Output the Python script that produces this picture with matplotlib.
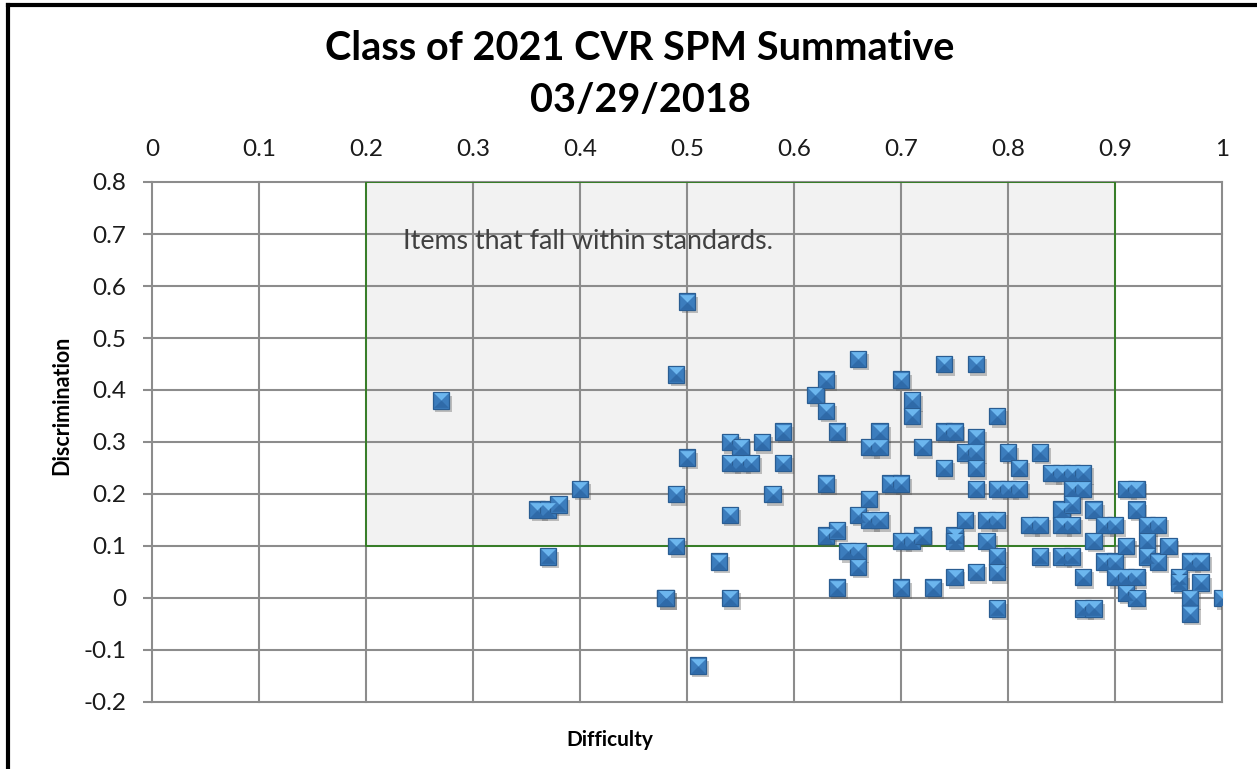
import matplotlib
matplotlib.use("Agg")
import matplotlib.pyplot as plt
from matplotlib.path import Path
from matplotlib.patches import Rectangle
from matplotlib.lines import Line2D
import matplotlib.patheffects as pe

plt.rcParams['font.family'] = ['Lato', 'DejaVu Sans']

difficulty = [0.27, 0.36, 0.37, 0.38, 0.40, 0.37, 0.48, 0.48, 0.49, 0.49, 0.49,
              0.50, 0.50, 0.51, 0.53, 0.54, 0.54, 0.54, 0.54, 0.55, 0.55, 0.56,
              0.57, 0.58, 0.59, 0.59, 0.62, 0.63, 0.63, 0.63, 0.63, 0.64, 0.64,
              0.64, 0.65, 0.66, 0.66, 0.66, 0.66, 0.67, 0.67, 0.67, 0.68, 0.68,
              0.68, 0.69, 0.70, 0.70, 0.70, 0.70, 0.71, 0.71, 0.71, 0.72, 0.72,
              0.73, 0.74, 0.74, 0.74, 0.75, 0.75, 0.75, 0.75, 0.76, 0.76, 0.77,
              0.77, 0.77, 0.77, 0.77, 0.77, 0.78, 0.78, 0.79, 0.79, 0.79, 0.79,
              0.79, 0.79, 0.80, 0.80, 0.81, 0.81, 0.82, 0.83, 0.83, 0.83, 0.84,
              0.85, 0.85, 0.85, 0.85, 0.86, 0.86, 0.86, 0.86, 0.86, 0.87, 0.87,
              0.87, 0.87, 0.88, 0.88, 0.88, 0.89, 0.89, 0.90, 0.90, 0.90, 0.91,
              0.91, 0.91, 0.91, 0.92, 0.92, 0.92, 0.92, 0.93, 0.93, 0.93, 0.94,
              0.94, 0.95, 0.96, 0.96, 0.97, 0.97, 0.97, 0.98, 0.98, 1.00]
discrimination = [0.38, 0.17, 0.17, 0.18, 0.21, 0.08, 0.00, 0.00, 0.43, 0.20, 0.10,
                  0.57, 0.27, -0.13, 0.07, 0.30, 0.26, 0.16, 0.00, 0.29, 0.26, 0.26,
                  0.30, 0.20, 0.32, 0.26, 0.39, 0.42, 0.36, 0.22, 0.12, 0.32, 0.13,
                  0.02, 0.09, 0.46, 0.16, 0.09, 0.06, 0.29, 0.19, 0.15, 0.32, 0.29,
                  0.15, 0.22, 0.42, 0.22, 0.11, 0.02, 0.38, 0.35, 0.11, 0.29, 0.12,
                  0.02, 0.45, 0.32, 0.25, 0.32, 0.12, 0.11, 0.04, 0.28, 0.15, 0.45,
                  0.31, 0.28, 0.25, 0.21, 0.05, 0.15, 0.11, 0.35, 0.21, 0.15, 0.08,
                  0.05, -0.02, 0.28, 0.21, 0.25, 0.21, 0.14, 0.28, 0.14, 0.08, 0.24,
                  0.24, 0.17, 0.14, 0.08, 0.24, 0.21, 0.18, 0.14, 0.08, 0.24, 0.21,
                  0.04, -0.02, 0.17, 0.11, -0.02, 0.14, 0.07, 0.14, 0.07, 0.04, 0.21,
                  0.10, 0.04, 0.01, 0.21, 0.17, 0.04, 0.00, 0.14, 0.11, 0.08, 0.14,
                  0.07, 0.10, 0.04, 0.03, 0.07, 0.00, -0.03, 0.07, 0.03, 0.00]

x_ticks = [0, 0.1, 0.2, 0.3, 0.4, 0.5, 0.6, 0.7, 0.8, 0.9, 1]
x_tick_labels = ['0', '0.1', '0.2', '0.3', '0.4', '0.5', '0.6', '0.7', '0.8', '0.9', '1']
y_ticks = [-0.2, -0.1, 0, 0.1, 0.2, 0.3, 0.4, 0.5, 0.6, 0.7, 0.8]
y_tick_labels = ['-0.2', '-0.1', '0', '0.1', '0.2', '0.3', '0.4', '0.5', '0.6', '0.7', '0.8']
standard_x = (0.2, 0.9)
standard_y = (0.1, 0.8)

fig = plt.figure(figsize=(12.57, 7.69), dpi=100)
ax = fig.add_axes([152/1257, 67/769, 1070/1257, 520/769])
ax.set_xlim(0, 1)
ax.set_ylim(-0.2, 0.8)

grid_col = '#8c8c8c'
ax.add_patch(Rectangle((standard_x[0], standard_y[0]), standard_x[1]-standard_x[0],
                       standard_y[1]-standard_y[0], facecolor='#f2f2f2',
                       edgecolor='none', zorder=0.5))
ax.add_patch(Rectangle((standard_x[0], standard_y[0]), standard_x[1]-standard_x[0],
                       standard_y[1]-standard_y[0], facecolor='none',
                       edgecolor='#2f7d1f', linewidth=1.3, zorder=1.6))

for v in x_ticks:
    ax.axvline(v, color=grid_col, linewidth=1.5, zorder=1, clip_on=False)
for v in y_ticks:
    ax.axhline(v, color=grid_col, linewidth=1.5, zorder=1, clip_on=False)
for s in ax.spines.values():
    s.set_visible(False)

ax.xaxis.tick_top()
ax.set_xticks(x_ticks)
ax.set_xticklabels(x_tick_labels)
ax.set_yticks(y_ticks)
ax.set_yticklabels(y_tick_labels)
ax.tick_params(axis='x', length=0, pad=16, labelsize=17.5, labelcolor='#1a1a1a')
ax.tick_params(axis='y', length=6.5, width=1.5, color=grid_col, pad=12,
               labelsize=17.5, labelcolor='#1a1a1a')

# pyramid-style square markers
shadow = [pe.SimplePatchShadow(offset=(2, -2.5), alpha=0.35, shadow_rgbFace='#555555'),
          pe.Normal()]
ax.plot(difficulty, discrimination, linestyle='none', marker='s', markersize=11.8,
        markerfacecolor='#3c7dbd', markeredgecolor='#2a5d92', markeredgewidth=0.9,
        zorder=3, path_effects=shadow)
bottom_tri = Path([(-1, -1), (1, -1), (0, 0), (-1, -1)])
ax.plot(difficulty, discrimination, linestyle='none', marker=bottom_tri, markersize=10.6,
        markerfacecolor='#2f6aa8', markeredgewidth=0, zorder=3.1)
top_tri = Path([(-1, 1), (1, 1), (0, 0), (-1, 1)])
ax.plot(difficulty, discrimination, linestyle='none', marker=top_tri, markersize=10.6,
        markerfacecolor='#6cb6ee', markeredgewidth=0, zorder=3.2)

ax.text(0.235, 0.685, 'Items that fall within standards.', fontsize=19.3,
        color='#404040', va='center', ha='left', zorder=4)

fig.text(610/1257, 1 - 740/769, 'Difficulty', ha='center', va='center',
         fontsize=15, fontweight='bold', color='#000000')
fig.text(62/1257, 1 - 405/769, 'Discrimination', ha='center', va='center',
         rotation=90, fontsize=15.5, fontweight='bold', color='#000000')

fig.text(640/1257, 1 - 48/769, 'Class of 2021 CVR SPM Summative', ha='center',
         va='center', fontsize=28.5, fontweight='bold', color='#000000')
fig.text(640/1257, 1 - 100/769, '03/29/2018', ha='center',
         va='center', fontsize=28.5, fontweight='bold', color='#000000')

# black frame
fig.add_artist(Line2D([8/1257, 1], [1 - 5/769, 1 - 5/769], color='black', linewidth=3,
                      transform=fig.transFigure))
fig.add_artist(Line2D([8/1257, 8/1257], [0, 1 - 5/769], color='black', linewidth=3,
                      transform=fig.transFigure))

fig.savefig('out.png', dpi=100)
